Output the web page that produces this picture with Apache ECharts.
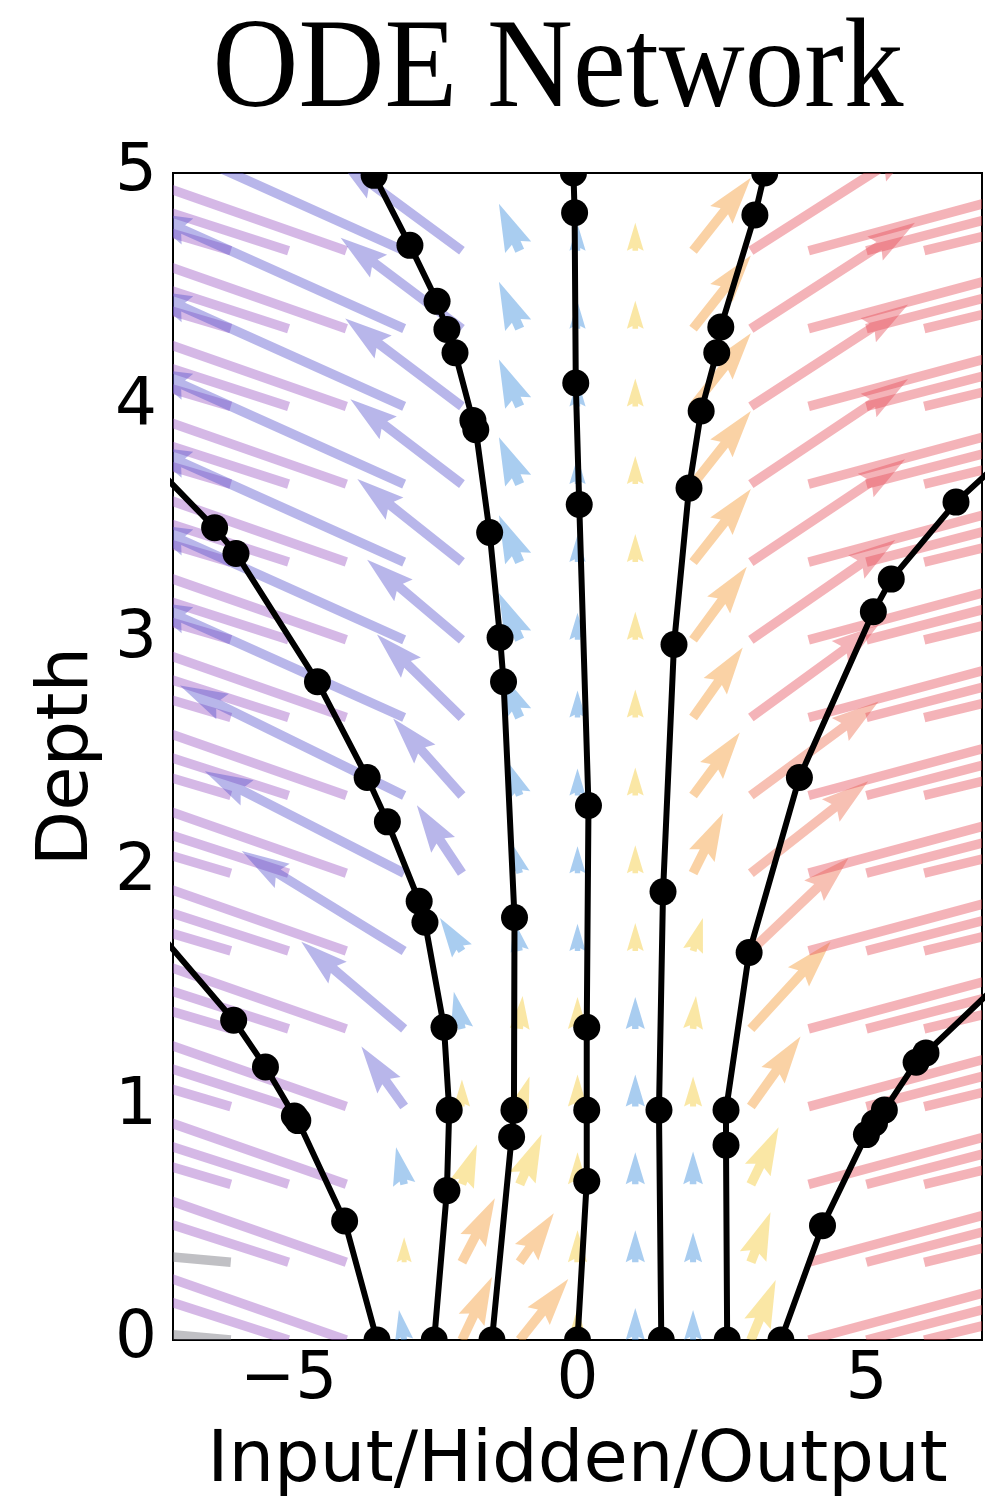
<!DOCTYPE html>
<html><head><meta charset="utf-8">
<script src="https://cdn.jsdelivr.net/npm/echarts@6/dist/echarts.min.js"></script>
<style>html,body{margin:0;padding:0;background:#fff}#chart{width:985px;height:1511px}</style>
</head><body><div id="chart"></div>
<script>
// ---------- data ----------
const titleText = 'ODE Network';
const xAxisName = 'Input/Hidden/Output';
const yAxisName = 'Depth';
const xTickValues = [-5, 0, 5];
const xTickLabels = ['\u22125', '0', '5'];

// depth of the quiver rows (arrow tails)
const rowDepths = [0, 0.333, 0.667, 1, 1.333, 1.667, 2, 2.333, 2.667, 3, 3.333, 3.667, 4, 4.333, 4.667];
// x position of the quiver columns
const fieldColumns = [-6, -5, -4, -3, -2, -1, 0, 1, 2, 3, 4, 5, 6];
// per column, per row: [u, v, colour key]
const colM6 = [[-4.5,0.1,'G'],[-4.5,0.1,'G'],[-4.5,0.33,'P'],[-4.5,0.33,'P'],[-4.5,0.33,'P'],[-4.5,0.33,'P'],[-4.5,0.33,'P'],[-4.5,0.33,'P'],[-4.5,0.33,'P'],[-4.5,0.33,'P'],[-4.5,0.33,'P'],[-4.5,0.33,'P'],[-4.5,0.33,'P'],[-4.5,0.33,'P'],[-4.5,0.33,'P']];
const colM5 = [[-4.5,0.36,'P'],[-4.5,0.36,'P'],[-4.5,0.36,'P'],[-4.5,0.36,'P'],[-4.5,0.36,'P'],[-4.5,0.36,'P'],[-4.5,0.36,'P'],[-4.5,0.36,'P'],[-4.5,0.36,'P'],[-4.5,0.36,'P'],[-4.5,0.36,'P'],[-4.5,0.36,'P'],[-4.5,0.36,'P'],[-4.5,0.36,'P'],[-4.5,0.36,'P']];
const colM4 = [[-4.5,0.39,'P'],[-4.5,0.39,'P'],[-4.5,0.39,'P'],[-4.5,0.39,'P'],[-4.5,0.39,'P'],[-4.5,0.39,'P'],[-4.5,0.39,'P'],[-4.5,0.39,'P'],[-4.5,0.39,'P'],[-4.5,0.39,'P'],[-4.5,0.39,'P'],[-4.5,0.39,'P'],[-4.5,0.39,'P'],[-4.5,0.39,'P'],[-4.5,0.39,'P']];
const colM3 = [[-0.09,0.129,'B'],[0,0.107,'Y'],[-0.14,0.159,'B'],[-0.74,0.257,'V'],[-1.78,0.373,'V'],[-2.81,0.428,'V'],[-3.45,0.437,'V'],[-3.88,0.471,'V'],[-4.5,0.5,'V'],[-4.5,0.5,'V'],[-4.5,0.5,'V'],[-4.5,0.5,'V'],[-4.5,0.5,'V'],[-4.5,0.5,'V'],[-4.5,0.5,'V']];
const colM2 = [[0.52,0.27,'O'],[0.57,0.274,'O'],[0.26,0.171,'Y'],[0,0.116,'Y'],[-0.14,0.159,'B'],[-0.38,0.141,'B'],[-0.78,0.291,'V'],[-1.19,0.33,'V'],[-1.47,0.356,'V'],[-1.64,0.343,'V'],[-1.81,0.356,'V'],[-1.93,0.364,'V'],[-2.02,0.377,'V'],[-2.10,0.39,'V'],[-2.16,0.394,'V']];
const colM1 = [[0.84,0.261,'O'],[0.59,0.21,'O'],[0.38,0.214,'Y'],[0.17,0.129,'Y'],[0.05,0.141,'Y'],[-0.10,0.129,'B'],[-0.16,0.137,'B'],[-0.24,0.154,'B'],[-0.36,0.201,'B'],[-0.36,0.201,'B'],[-0.36,0.201,'B'],[-0.36,0.201,'B'],[-0.36,0.201,'B'],[-0.36,0.201,'B'],[-0.36,0.201,'B']];
const col0 = [[0,0.137,'Y'],[0,0.137,'Y'],[0,0.137,'Y'],[0,0.137,'Y'],[0,0.137,'Y'],[0,0.116,'B'],[0,0.116,'B'],[0,0.116,'B'],[0,0.116,'B'],[0,0.116,'B'],[0,0.116,'B'],[0,0.116,'B'],[0,0.116,'B'],[0,0.116,'B'],[0,0.116,'B']];
const col1 = [[0,0.137,'B'],[0,0.137,'B'],[0,0.137,'B'],[0,0.137,'B'],[0,0.137,'B'],[0,0.12,'Y'],[0,0.12,'Y'],[0,0.12,'Y'],[0,0.12,'Y'],[0,0.12,'Y'],[0,0.12,'Y'],[0,0.12,'Y'],[0,0.12,'Y'],[0,0.12,'Y'],[0,0.12,'Y']];
const col2 = [[0,0.129,'B'],[0,0.129,'B'],[0,0.141,'B'],[0,0.129,'Y'],[0.05,0.141,'Y'],[0.17,0.141,'Y'],[0.52,0.257,'O'],[0.81,0.27,'O'],[0.86,0.30,'O'],[0.93,0.313,'O'],[1.0,0.313,'O'],[1.0,0.313,'O'],[1.0,0.313,'O'],[1.0,0.313,'O'],[1.0,0.313,'O']];
const col3 = [[0.43,0.257,'Y'],[0.34,0.214,'Y'],[0.48,0.244,'Y'],[0.86,0.30,'O'],[1.38,0.373,'O'],[1.69,0.398,'S'],[2.03,0.394,'S'],[2.21,0.403,'S'],[2.21,0.398,'R'],[2.5,0.428,'R'],[2.67,0.441,'R'],[2.72,0.45,'R'],[2.72,0.437,'R'],[2.84,0.454,'R'],[2.9,0.458,'R']];
const col4 = [[4.5,0.30,'R'],[4.5,0.30,'R'],[4.5,0.30,'R'],[4.5,0.30,'R'],[4.5,0.30,'R'],[4.5,0.30,'R'],[4.5,0.30,'R'],[4.5,0.30,'R'],[4.5,0.30,'R'],[4.5,0.30,'R'],[4.5,0.30,'R'],[4.5,0.30,'R'],[4.5,0.30,'R'],[4.5,0.30,'R'],[4.5,0.30,'R']];
const col5 = [[4.5,0.29,'R'],[4.5,0.29,'R'],[4.5,0.29,'R'],[4.5,0.29,'R'],[4.5,0.29,'R'],[4.5,0.29,'R'],[4.5,0.29,'R'],[4.5,0.29,'R'],[4.5,0.29,'R'],[4.5,0.29,'R'],[4.5,0.29,'R'],[4.5,0.29,'R'],[4.5,0.29,'R'],[4.5,0.29,'R'],[4.5,0.29,'R']];
const col6 = [[4.5,0.27,'R'],[4.5,0.27,'R'],[4.5,0.27,'R'],[4.5,0.27,'R'],[4.5,0.27,'R'],[4.5,0.27,'R'],[4.5,0.27,'R'],[4.5,0.27,'R'],[4.5,0.27,'R'],[4.5,0.27,'R'],[4.5,0.27,'R'],[4.5,0.27,'R'],[4.5,0.27,'R'],[4.5,0.27,'R'],[4.5,0.27,'R']];

// trajectories: dots [x, depth]
const traj1 = [[-3.47,0],[-4.03,0.51],[-4.84,0.94],[-4.90,0.96],[-5.40,1.17],[-5.95,1.37]];
const traj2 = [[-2.48,0],[-2.26,0.64],[-2.22,0.985],[-2.31,1.34],[-2.64,1.79],[-2.74,1.88],[-3.29,2.22],[-3.64,2.41],[-4.50,2.82],[-5.91,3.37],[-6.28,3.48]];
const traj3 = [[-1.48,0],[-1.14,0.87],[-1.10,0.985],[-1.09,1.81],[-1.28,2.82],[-1.34,3.01],[-1.52,3.46],[-1.76,3.90],[-1.81,3.94],[-2.12,4.23],[-2.26,4.33],[-2.43,4.45],[-2.90,4.69],[-3.52,4.99]];
const traj4 = [[0,0],[0.16,0.68],[0.16,0.985],[0.16,1.34],[0.19,2.29],[0.03,3.58],[-0.03,4.10],[-0.05,4.83],[-0.07,5.0]];
const traj5 = [[1.45,0],[1.41,0.985],[1.48,1.92],[1.67,2.98],[1.93,3.65],[2.14,3.98],[2.41,4.23],[2.48,4.34],[3.07,4.82],[3.24,5.0]];
const traj6 = [[2.59,0],[2.57,0.835],[2.57,0.985],[2.97,1.66],[3.84,2.41],[5.12,3.12],[5.43,3.26],[6.55,3.59]];
const traj7 = [[3.52,0],[4.24,0.49],[5.0,0.88],[5.14,0.93],[5.31,0.985],[5.86,1.19],[6.03,1.23]];
// where the trajectories leave the frame (line only, no dot)
const trajExit1 = [[-7.3,1.76]];
const trajExit2 = [[-7.3,3.74]];
const trajExit6 = [[7.3,3.76]];
const trajExit7 = [[7.3,1.53]];

// ---------- styling ----------
const arrowColours = {
  P: 'rgba(155,85,195,0.42)',
  V: 'rgba(85,81,205,0.42)',
  B: 'rgba(65,145,221,0.45)',
  Y: 'rgba(245,201,55,0.45)',
  O: 'rgba(245,155,55,0.45)',
  S: 'rgba(235,105,75,0.42)',
  R: 'rgba(229,75,85,0.42)',
  G: 'rgba(115,115,125,0.45)'
};
const TICK_FONT = 66, NAME_FONT = 72;
const FONT = '"DejaVu Sans", sans-serif';

const columnTables = [colM6, colM5, colM4, colM3, colM2, colM1, col0, col1, col2, col3, col4, col5, col6];
const arrowData = [];
const arrowKeys = [];
fieldColumns.forEach((cx, ci) => {
  columnTables[ci].forEach((a, k) => {
    arrowData.push([cx, rowDepths[k], a[0], a[1]]);
    arrowKeys.push(a[2]);
  });
});

// matplotlib-like quiver arrow (units of shaft width)
const SHAFT = 9.5, HEAD_W = 3, HEAD_L = 5, HEAD_AL = 4.5;
function arrowRender(params, api) {
  const x = api.value(0), y = api.value(1), u = api.value(2), v = api.value(3);
  const p0 = api.coord([x, y]);
  const p1 = api.coord([x + u, y + v]);
  const dx = p1[0] - p0[0], dy = p1[1] - p0[1];
  const L = Math.hypot(dx, dy);
  if (!(L > 0)) return;
  const ex = dx / L, ey = dy / L, nx = -ey, ny = ex;
  const Lw = L / SHAFT;
  let local;
  if (Lw >= HEAD_L) {
    local = [[0,0.5],[Lw-HEAD_AL,0.5],[Lw-HEAD_L,HEAD_W/2],[Lw,0],[Lw-HEAD_L,-HEAD_W/2],[Lw-HEAD_AL,-0.5],[0,-0.5]];
  } else {
    const s = Lw / HEAD_L;
    local = [[0,0.5],[HEAD_L-HEAD_AL,0.5],[0,HEAD_W/2],[HEAD_L,0],[0,-HEAD_W/2],[HEAD_L-HEAD_AL,-0.5],[0,-0.5]].map(p => [p[0]*s, p[1]*s]);
  }
  const pts = local.map(p => [p0[0] + (ex*p[0] + nx*p[1]) * SHAFT, p0[1] + (ey*p[0] + ny*p[1]) * SHAFT]);
  return { type: 'polygon', shape: { points: pts }, style: { fill: arrowColours[arrowKeys[params.dataIndex]] } };
}

const trajectories = [traj1, traj2, traj3, traj4, traj5, traj6, traj7];
const exits = [trajExit1, trajExit2, null, null, null, trajExit6, trajExit7];
const allDots = [].concat(...trajectories);

const series = [{
  type: 'custom', name: 'field', data: arrowData, renderItem: arrowRender,
  clip: true, z: 2, silent: true, animation: false
}];
trajectories.forEach((t, i) => {
  series.push({
    type: 'line', data: exits[i] ? t.concat(exits[i]) : t, symbol: 'none', clip: true,
    lineStyle: { color: '#000', width: 6 }, z: 3, silent: true, animation: false
  });
});
series.push({
  type: 'custom', name: 'dots', data: allDots, clip: true, z: 4, silent: true, animation: false,
  renderItem: (params, api) => {
    const p = api.coord([api.value(0), api.value(1)]);
    return { type: 'circle', shape: { cx: p[0], cy: p[1], r: 13.5 }, style: { fill: '#000' } };
  }
});

const chart = echarts.init(document.getElementById('chart'), null, { renderer: 'canvas' });
chart.setOption({
  animation: false,
  backgroundColor: '#fff',
  grid: { left: 173, right: 2, top: 173, bottom: 171, show: true, borderColor: '#000', borderWidth: 2, backgroundColor: 'transparent' },
  graphic: [{
    type: 'text', x: 558, y: 72, scaleX: 0.93, z: 10,
    style: { text: titleText, font: '128px "Liberation Serif", serif', fill: '#000', textAlign: 'center', textVerticalAlign: 'middle' }
  }],
  xAxis: {
    type: 'value', min: -7, max: 7, interval: 1,
    name: xAxisName, nameLocation: 'middle', nameGap: 86,
    nameTextStyle: { fontSize: NAME_FONT, fontFamily: FONT, color: '#000', verticalAlign: 'top' },
    axisLine: { show: false }, axisTick: { show: false }, splitLine: { show: false },
    axisLabel: {
      color: '#000', fontSize: TICK_FONT, fontFamily: FONT, margin: 8,
      formatter: (val) => { const i = xTickValues.indexOf(Math.round(val * 1000) / 1000); return i >= 0 ? xTickLabels[i] : ''; }
    }
  },
  yAxis: {
    type: 'value', min: 0, max: 5, interval: 1,
    name: yAxisName, nameLocation: 'middle', nameGap: 66,
    nameTextStyle: { fontSize: NAME_FONT, fontFamily: FONT, color: '#000' },
    axisLine: { show: false }, axisTick: { show: false }, splitLine: { show: false },
    axisLabel: { color: '#000', fontSize: TICK_FONT, fontFamily: FONT, margin: 16 }
  },
  series: series
});
</script>
</body></html>
